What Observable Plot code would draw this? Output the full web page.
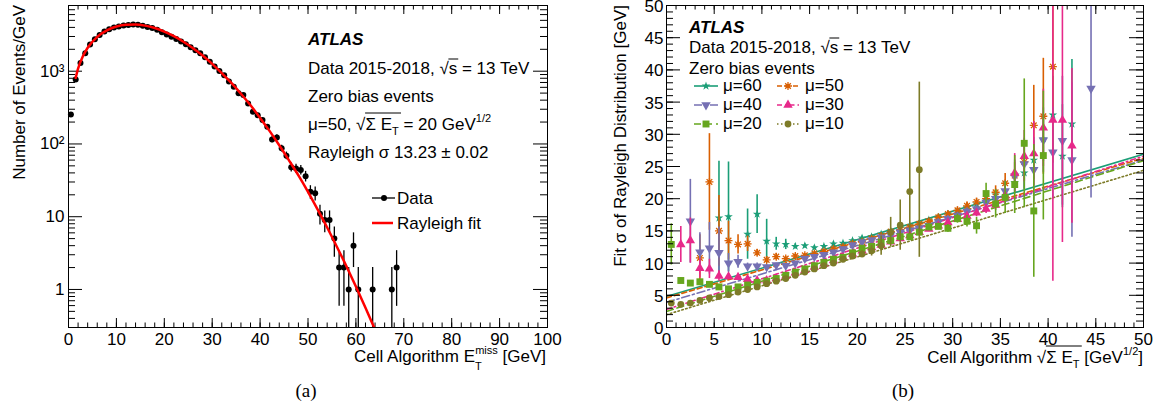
<!DOCTYPE html>
<html><head><meta charset="utf-8">
<script src="https://cdn.jsdelivr.net/npm/d3@7"></script>
<script src="https://cdn.jsdelivr.net/npm/@observablehq/plot@0.6"></script>
<style>
html,body{margin:0;padding:0;background:#fff;}
#wrap{position:relative;width:1159px;height:412px;overflow:hidden;background:#fff;}
#pa{position:absolute;left:0;top:0;width:580px;height:412px;}
#pb{position:absolute;left:580px;top:0;width:579px;height:412px;}
</style></head><body>
<div id="wrap"><div id="pa"></div><div id="pb"></div></div>
<script>
// ================= DATA: panel (a) =================
const missX = [0.5,1.5,2.5,3.5,4.5,5.5,6.5,7.5,8.5,9.5,
  10.5,11.5,12.5,13.5,14.5,15.5,16.5,17.5,18.5,19.5,
  20.5,21.5,22.5,23.5,24.5,25.5,26.5,27.5,28.5,29.5,
  30.5,31.5,32.5,33.5,34.5,35.5,36.5,37.5,38.5,39.5,
  40.5,41.5,42.5,43.5,44.5,45.5,46.5,47.5,48.5,49.5,
  50.5,51.5,52.5,53.5,54.5,55.5,56.5,57.5,58.5,59.5,
  60.5,63.5,67.5,68.5];
const missN = [255,770,1300,1760,2330,2750,3150,3500,3780,3980,
  4110,4240,4330,4370,4340,4230,4050,3920,3700,3420,
  3200,2980,2760,2560,2340,2130,1940,1760,1560,1350,
  1160,1010,880,720,612,497,470,361,277,249,
  213,172,115,123,87,69,48,46,44,36,
  22,21,11,9,9,5,2,2,1,4,
  1,1,1,2];
const fitX = [1.5,2,3,4,6,8,10,12,14,16,18,20,22,24,26,28,30,32,34,36,38,40,42,44,46,48,50,52,54,56,58,60,62,63.8];
const fitN = [810,1085,1600,2100,2970,3650,4120,4360,4390,4230,3920,3500,3030,2540,2070,1640,1260,940,690,490,340,228,150,96,60,37,22,12.6,7.1,3.9,2.1,1.1,0.56,0.3];
const xTicksA = [0,10,20,30,40,50,60,70,80,90,100];
const yTicksA = [1,10,100,1000];
const yTickLabelsA = ["1","10","10²","10³"];

// ================= DATA: panel (b) =================
const sqrtX = [0.5,1.5,2.5,3.5,4.5,5.5,6.5,7.5,8.5,9.5,
  10.5,11.5,12.5,13.5,14.5,15.5,16.5,17.5,18.5,19.5,
  20.5,21.5,22.5,23.5,24.5,25.5,26.5,27.5,28.5,29.5,
  30.5,31.5,32.5,33.5,34.5,35.5,36.5,37.5,38.5,39.5,
  40.5,41.5,42.5,43.5,44.5];
const mu60 = [null,null,null,null,null, 17.0,17.2,null,14.5,17.6, 13.4,13.0,12.9,12.6,12.7, 12.4,12.6,13.0,13.1,13.5, 13.9,14.1,14.5,15.0,15.4, 15.8,16.2,16.7,17.1,17.6, 18.0,18.6,19.2,19.8,20.6, 21.2,22.5,24.0,26.0,29.3, 33.0,26.6,31.6,null,null];
const mu60err = [0,0,0,0,0, 8.8,8.5,0,3.9,3.0, 3.4,1.0,0.8,0.4,0.3, 0.3,0.3,0.3,0.3,0.3, 0.3,0.3,0.3,0.3,0.3, 0.4,0.4,0.4,0.5,0.5, 0.5,0.6,0.6,0.7,0.8, 1.0,1.5,2.5,3.0,3.5, 6.0,8.0,10.0,0,0];
const mu50 = [null,null,null,10.8,22.6, 15.0,13.5,12.9,13.0,11.6, 10.5,11.0,10.7,11.1,11.2, 11.5,11.8,12.2,12.5,13.0, 13.3,13.8,14.2,14.9,15.2, 15.6,16.1,16.5,17.1,17.6, 18.2,18.9,19.5,20.0,21.0, 22.4,23.6,25.7,31.4,32.8, 40.5,null,null,null,null];
const mu50err = [0,0,0,3.6,7.5, 5.5,3.0,1.5,1.2,0.5, 0.5,0.5,0.3,0.3,0.3, 0.3,0.3,0.3,0.3,0.3, 0.3,0.3,0.3,0.3,0.3, 0.4,0.4,0.4,0.5,0.5, 0.5,0.6,0.6,0.7,1.0, 1.5,2.0,3.0,6.2,9.0, 15.0,0,0,0,0];
const mu40 = [null,null,16.5,11.7,12.3, 11.6,10.0,10.2,9.5,9.5, 9.4,9.7,9.6,10.0,10.7, 11.0,11.3,11.7,12.2,12.8, 13.3,13.6,14.0,14.4,14.8, 15.1,15.4,15.8,16.4,16.9, 17.4,18.0,18.4,19.4,20.0, 21.2,23.5,25.4,24.5,29.1, 27.2,29.0,26.0,null,37.1];
const mu40err = [0,0,6.5,3.0,4.0, 4.0,1.5,1.0,0.5,0.5, 0.4,0.3,0.3,0.3,0.3, 0.3,0.3,0.3,0.3,0.3, 0.3,0.3,0.3,0.3,0.3, 0.4,0.4,0.4,0.5,0.5, 0.5,0.6,0.6,0.7,0.8, 1.5,2.5,4.0,5.0,5.0, 7.0,10.0,12.0,0,17.0];
const mu30 = [null,12.9,13.5,9.2,9.1, 8.0,7.9,7.8,7.5,7.3, 7.3,7.6,8.0,8.5,8.9, 9.4,9.9,10.4,10.9,11.4, 11.9,12.4,12.8,13.3,13.8, 14.3,14.8,15.3,15.8,16.3, 16.8,17.3,17.8,18.4,19.0, 20.5,24.0,26.6,27.0,31.0, 32.2,32.2,28.2,null,null];
const mu30err = [0,2.8,3.5,1.5,1.5, 0.8,0.5,0.4,0.3,0.3, 0.3,0.3,0.3,0.3,0.3, 0.3,0.3,0.3,0.3,0.3, 0.3,0.3,0.3,0.3,0.3, 0.4,0.4,0.4,0.5,0.5, 0.5,0.6,0.6,0.7,0.8, 1.5,3.0,4.0,5.0,6.0, 25.0,19.0,12.0,0,0];
const mu20 = [12.9,7.3,6.9,7.1,6.7, 6.3,6.0,6.3,6.6,7.0, 7.2,7.6,8.1,8.6,9.1, 9.6,10.1,10.6,10.9,11.6, 12.3,12.6,13.2,13.5,14.1, 14.1,14.8,15.6,15.7,15.4, 16.9,16.5,15.8,20.8,19.2, 20.2,22.2,28.6,18.1,26.7, null,null,null,null,null];
const mu20err = [3.2,0.4,0.3,0.3,0.3, 0.3,0.3,0.3,0.3,0.3, 0.3,0.3,0.3,0.3,0.3, 0.3,0.3,0.3,0.3,0.3, 0.3,0.3,0.3,0.3,0.4, 0.4,0.5,0.5,0.5,0.6, 0.7,0.9,1.3,1.6,2.2, 2.5,4.5,10.0,10.3,10.0, 0,0,0,0,0];
const mu10 = [3.8,3.6,3.8,4.2,4.6, 4.8,5.1,5.5,5.9,6.3, 6.8,7.2,7.6,8.1,8.6, 9.1,9.6,10.0,10.6,11.1, 11.4,11.9,12.7,14.8,15.9, 21.1,24.5,null,null,null, null,null,null,null,null, null,null,null,null,null, null,null,null,null,null];
const mu10err = [0.3,0.3,0.3,0.3,0.3, 0.3,0.3,0.3,0.3,0.3, 0.3,0.3,0.3,0.3,0.3, 0.3,0.3,0.3,0.3,0.3, 0.5,0.8,1.5,2.3,3.9, 6.6,13.6,0,0,0, 0,0,0,0,0, 0,0,0,0,0, 0,0,0,0,0];
const fitEnds = [0, 50];
const fit60 = [4.8, 26.9];
const fit50 = [4.6, 26.3];
const fit40 = [3.9, 26.0];
const fit30 = [2.8, 26.6];
const fit20 = [2.5, 25.9];
const fit10 = [2.0, 24.4];
const muLabels = ["μ=60","μ=50","μ=40","μ=30","μ=20","μ=10"];
const xTicksB = [0,5,10,15,20,25,30,35,40,45,50];
const yTicksB = [0,5,10,15,20,25,30,35,40,45,50];

// ================= STYLE =================
const FONT = "'Liberation Sans', Arial, Helvetica, sans-serif";
const H = 412, MT = 5, MB = 85;
const invTriangle = {draw(ctx, size) {
  const s3 = Math.sqrt(3), y = -Math.sqrt(size / (s3 * 3));
  ctx.moveTo(0, -y * 2); ctx.lineTo(-s3 * y, y); ctx.lineTo(s3 * y, y); ctx.closePath();
}};
// 8-spoke asterisk (plus + times)
const star8 = {draw(ctx, size) {
  const r = Math.sqrt(size / Math.PI), d = r * Math.SQRT1_2;
  ctx.moveTo(-r, 0); ctx.lineTo(r, 0); ctx.moveTo(0, -r); ctx.lineTo(0, r);
  ctx.moveTo(-d, -d); ctx.lineTo(d, d); ctx.moveTo(-d, d); ctx.lineTo(d, -d);
}};
const styles = [
  {color:"#1b9e77", symbol:d3.symbolStar, r:2.7, dash:null, stroked:false},
  {color:"#d95f02", symbol:star8, r:4.0, dash:"5,3", stroked:true},
  {color:"#7570b3", symbol:invTriangle, r:3.5, dash:"8,3,2,3", stroked:false},
  {color:"#e7298a", symbol:d3.symbolTriangle, r:3.5, dash:"5,3,1.5,3", stroked:false},
  {color:"#66a61e", symbol:d3.symbolSquare, r:3.9, dash:"7,4", stroked:false},
  {color:"#7d7b28", symbol:d3.symbolCircle, r:3.4, dash:"1.5,2.5", stroked:false}
];
const seriesVals = [mu60, mu50, mu40, mu30, mu20, mu10];
const seriesErrs = [mu60err, mu50err, mu40err, mu30err, mu20err, mu10err];
const seriesFits = [fit60, fit50, fit40, fit30, fit20, fit10];

function boxTicks(xMaj, xMin, yMaj, yMin, pw, ph) {
  const xm = 9, xn = 4.5, ym = 14, yn = 7, k = {stroke: "black", strokeWidth: 1};
  return [
    Plot.tickX(xMaj, {x: d => d, insetTop: ph - xm, ...k}),
    Plot.tickX(xMin, {x: d => d, insetTop: ph - xn, ...k}),
    Plot.tickX(xMaj, {x: d => d, insetBottom: ph - xm, ...k}),
    Plot.tickX(xMin, {x: d => d, insetBottom: ph - xn, ...k}),
    Plot.tickY(yMaj, {y: d => d, insetRight: pw - ym, ...k}),
    Plot.tickY(yMin, {y: d => d, insetRight: pw - yn, ...k}),
    Plot.tickY(yMaj, {y: d => d, insetLeft: pw - ym, ...k}),
    Plot.tickY(yMin, {y: d => d, insetLeft: pw - yn, ...k})
  ];
}

// ================= PANEL (a) =================
const WA = 580, MLA = 68, MRA = 33;
const yMinA = 0.3, yMaxA = 8000;
const rowsA = missX.map((x, i) => {
  const v = missN[i], e = Math.sqrt(v);
  return {x, v, lo: Math.max(v - e, yMinA), hi: v + e};
});
const fitRows = fitX.map((x, i) => ({x, y: fitN[i]}));
const minorLog = [];
[0.1, 1, 10, 100, 1000].forEach(dec => { for (let m = 2; m <= 9; m++) { const t = m * dec; if (t >= yMinA && t <= yMaxA) minorLog.push(t); } });
const xMinorA = d3.range(0, 101, 2);

const plotA = Plot.plot({
  width: WA, height: H, marginLeft: MLA, marginRight: MRA, marginTop: MT, marginBottom: MB,
  style: {fontFamily: FONT, fontSize: "17px", color: "black", background: "white", overflow: "visible"},
  x: {domain: [0, 100]},
  y: {type: "log", domain: [yMinA, yMaxA]},
  marks: [
    ...boxTicks(xTicksA, xMinorA, yTicksA, minorLog, WA - MLA - MRA, H - MT - MB),
    Plot.axisX({ticks: xTicksA, tickSize: 0, tickPadding: 5, tickFormat: d => String(d), label: null}),
    Plot.axisY({ticks: yTicksA, tickSize: 0, tickPadding: 4, tickFormat: d => yTickLabelsA[yTicksA.indexOf(d)], label: null}),
    Plot.ruleX(rowsA, {x: "x", y1: "lo", y2: "hi", stroke: "black", strokeWidth: 1.3, clip: true}),
    Plot.dot(rowsA, {x: "x", y: "v", r: 3, fill: "black", stroke: null}),
    Plot.line(fitRows, {x: "x", y: "y", stroke: "#ff0000", strokeWidth: 2.5, curve: "monotone-x", clip: true}),
    Plot.frame({stroke: "black", strokeWidth: 1})
  ]
});
document.getElementById("pa").appendChild(plotA);

// ================= PANEL (b) =================
const WB = 579, MLB = 86, MRB = 16;
const marksB = [];
seriesFits.forEach((f, s) => {
  const st = styles[s];
  marksB.push(Plot.line(fitEnds.map((x, i) => ({x, y: f[i]})), {x: "x", y: "y", stroke: st.color, strokeWidth: 1.6, strokeDasharray: st.dash, clip: true}));
});
seriesVals.forEach((vals, s) => {
  const st = styles[s];
  const rows = sqrtX.map((x, i) => ({x, v: vals[i], e: seriesErrs[s][i]})).filter(d => d.v != null);
  marksB.push(Plot.ruleX(rows, {x: "x", y1: d => d.v - d.e, y2: d => d.v + d.e, stroke: st.color, strokeWidth: 1.6, clip: true}));
  marksB.push(Plot.dot(rows, st.stroked
    ? {x: "x", y: "v", symbol: st.symbol, r: st.r, stroke: st.color, strokeWidth: 1.3, fill: "none", clip: true}
    : {x: "x", y: "v", symbol: st.symbol, r: st.r, fill: st.color, stroke: null, clip: true}));
});
const plotB = Plot.plot({
  width: WB, height: H, marginLeft: MLB, marginRight: MRB, marginTop: MT, marginBottom: MB,
  style: {fontFamily: FONT, fontSize: "17px", color: "black", background: "white", overflow: "visible"},
  x: {domain: [0, 50]},
  y: {domain: [0, 50]},
  marks: [
    ...marksB,
    ...boxTicks(xTicksB, d3.range(0, 51, 1), yTicksB, d3.range(0, 51, 1), WB - MLB - MRB, H - MT - MB),
    Plot.axisX({ticks: xTicksB, tickSize: 0, tickPadding: 5, tickFormat: d => String(d), label: null}),
    Plot.axisY({ticks: yTicksB, tickSize: 0, tickPadding: 3, dy: 1, tickFormat: d => String(d), label: null}),
    Plot.frame({stroke: "black", strokeWidth: 1})
  ]
});
document.getElementById("pb").appendChild(plotB);

// ================= TEXT HELPERS =================
function rich(svg, x, y, parts, opts = {}) {
  const t = svg.append("text").attr("x", x).attr("y", y)
    .attr("font-size", opts.fs || 17).attr("text-anchor", opts.anchor || "start")
    .attr("fill", "black").attr("font-family", opts.family || FONT);
  if (opts.transform) t.attr("transform", opts.transform).attr("x", 0).attr("y", 0);
  if (opts.weight) t.attr("font-weight", opts.weight);
  if (opts.italic) t.attr("font-style", "italic");
  const spans = parts.map(p => {
    const s = t.append("tspan").text(p.t);
    if (p.fs) s.attr("font-size", p.fs);
    if (p.dx) s.attr("dx", p.dx);
    if (p.dy) s.attr("dy", p.dy);
    return s;
  });
  return spans;
}
function overline(svg, a, b, y, extra = 1) {
  const ba = a.node().getBBox(), bb = b.node().getBBox();
  svg.append("line").attr("x1", ba.x + ba.width - 1).attr("x2", bb.x + bb.width + extra)
    .attr("y1", y).attr("y2", y).attr("stroke", "black").attr("stroke-width", 1);
}

// ---- panel (a) text ----
const sa = d3.select(plotA);
rich(sa, 308, 45, [{t: "ATLAS"}], {weight: "bold", italic: true});
let sp = rich(sa, 308, 74, [{t: "Data 2015-2018, "}, {t: "√"}, {t: "s"}, {t: " = 13 TeV"}]);
overline(sa, sp[1], sp[2], 74 - 15);
rich(sa, 308, 102, [{t: "Zero bias events"}]);
sp = rich(sa, 308, 130, [{t: "μ=50, "}, {t: "√"}, {t: "Σ E"}, {t: "T", fs: 11, dy: 5}, {t: " = 20 GeV", dy: -5}, {t: "1/2", fs: 11, dy: -8}]);
overline(sa, sp[1], sp[3], 130 - 17, 2);
rich(sa, 308, 158, [{t: "Rayleigh σ 13.23 ± 0.02"}]);
// legend (a)
sa.append("line").attr("x1", 372).attr("x2", 395).attr("y1", 198).attr("y2", 198).attr("stroke", "black").attr("stroke-width", 1.3);
sa.append("circle").attr("cx", 384).attr("cy", 198).attr("r", 3).attr("fill", "black");
rich(sa, 397, 204, [{t: "Data"}]);
sa.append("line").attr("x1", 372).attr("x2", 393).attr("y1", 223).attr("y2", 223).attr("stroke", "#ff0000").attr("stroke-width", 2.5);
rich(sa, 397, 229, [{t: "Rayleigh fit"}]);
// axis titles (a)
rich(sa, 0, 0, [{t: "Number of Events/GeV"}], {anchor: "end", transform: "translate(25,5) rotate(-90)"});
rich(sa, 546, 362, [{t: "Cell Algorithm E"}, {t: "T", fs: 11, dy: 8}, {t: "miss", fs: 11, dx: -6.5, dy: -16}, {t: " [GeV]", dy: 8}], {anchor: "end"});
rich(sa, 306, 397, [{t: "(a)"}], {anchor: "middle", family: "'Liberation Serif', 'Times New Roman', serif", fs: 19});

// ---- panel (b) text ----
const sb = d3.select(plotB);
rich(sb, 109, 33, [{t: "ATLAS"}], {weight: "bold", italic: true});
sp = rich(sb, 109, 53, [{t: "Data 2015-2018, "}, {t: "√"}, {t: "s"}, {t: " = 13 TeV"}]);
overline(sb, sp[1], sp[2], 53 - 15);
rich(sb, 109, 74, [{t: "Zero bias events"}]);
// legend (b)
const legCols = [{l1: 114, l2: 138, m: 126, tx: 143}, {l1: 197, l2: 220, m: 208, tx: 225}];
const legRows = [86, 105, 124];
styles.forEach((st, s) => {
  const c = legCols[s % 2], yy = legRows[Math.floor(s / 2)];
  const ln = sb.append("line").attr("x1", c.l1).attr("x2", c.l2).attr("y1", yy).attr("y2", yy)
    .attr("stroke", st.color).attr("stroke-width", 1.6);
  if (st.dash) ln.attr("stroke-dasharray", st.dash);
  const path = sb.append("path").attr("d", d3.symbol().type(st.symbol).size(Math.PI * st.r * st.r)())
    .attr("transform", `translate(${c.m},${yy})`);
  if (st.stroked) path.attr("fill", "none").attr("stroke", st.color).attr("stroke-width", 1.3);
  else path.attr("fill", st.color);
  rich(sb, c.tx, yy + 5, [{t: muLabels[s]}]);
});
// axis titles (b)
rich(sb, 0, 0, [{t: "Fit σ of Rayleigh Distribution [GeV]"}], {anchor: "end", transform: "translate(46,5) rotate(-90)"});
sp = rich(sb, 563, 363, [{t: "Cell Algorithm "}, {t: "√"}, {t: "Σ E"}, {t: "T", fs: 11, dy: 5}, {t: " [GeV", dy: -5}, {t: "1/2", fs: 11, dy: -8}, {t: "]", dy: 8}], {anchor: "end"});
overline(sb, sp[1], sp[3], 363 - 17, 2);
rich(sb, 323, 397, [{t: "(b)"}], {anchor: "middle", family: "'Liberation Serif', 'Times New Roman', serif", fs: 19});
</script>
</body></html>
